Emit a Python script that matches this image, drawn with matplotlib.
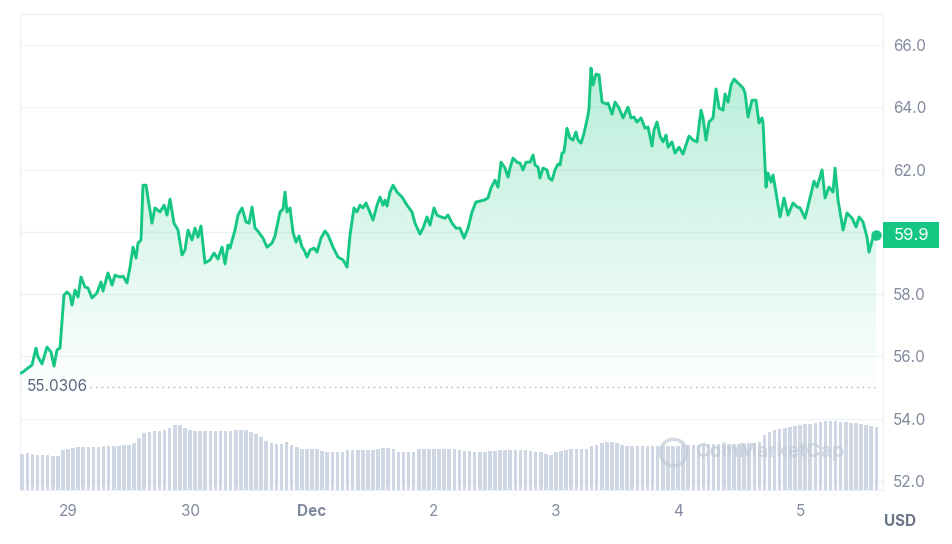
import datetime as dt

import matplotlib
matplotlib.use("Agg")
import matplotlib.pyplot as plt
import matplotlib.dates as mdates
import matplotlib.transforms as mtransforms
from matplotlib.colors import to_rgb
from matplotlib.patches import Polygon, Rectangle
import numpy as np

# price samples: hours since 28 Nov 00:00 and price in USD
hours = [
    14.75, 15.15, 16.13, 16.92, 17.70, 18.10, 18.89, 19.87, 20.66, 21.25,
    21.84, 22.43, 22.82, 23.21, 23.80, 24.39, 24.79, 25.38, 25.97, 26.56,
    27.34, 27.93, 28.72, 29.70, 30.49, 30.89, 31.87, 32.66, 33.25, 34.23,
    34.82, 35.61, 36.20, 36.79, 37.38, 37.77, 38.36, 38.75, 39.34, 39.74,
    40.52, 41.11, 42.10, 42.89, 43.48, 44.07, 44.85, 45.64, 46.43, 47.02,
    47.61, 48.39, 48.98, 49.57, 50.16, 50.95, 51.93, 52.72, 53.51, 54.30,
    54.89, 55.48, 55.87, 56.85, 57.44, 58.23, 59.02, 59.61, 60.20, 60.79,
    61.18, 62.36, 63.15, 64.13, 64.72, 65.70, 66.29, 66.69, 67.08, 67.67,
    68.26, 68.85, 69.44, 70.03, 70.43, 71.02, 71.61, 72.39, 72.98, 73.77,
    74.56, 75.15, 76.13, 77.11, 78.10, 78.89, 79.48, 80.26, 80.85, 81.44,
    82.03, 82.62, 83.21, 84.00, 84.79, 85.38, 85.97, 86.36, 86.75, 87.34,
    87.93, 88.72, 89.70, 90.69, 91.67, 92.26, 93.25, 93.84, 94.62, 95.21,
    96.00, 96.59, 97.38, 98.16, 98.75, 99.54, 100.33, 101.11, 101.90, 102.69,
    103.47, 104.26, 105.05, 105.84, 106.62, 107.21, 108.00, 108.59, 109.18, 109.97,
    110.56, 110.95, 111.54, 112.33, 112.92, 113.51, 114.10, 114.89, 115.48, 115.87,
    116.46, 116.85, 117.44, 118.23, 118.62, 119.21, 119.80, 120.39, 120.79, 121.18,
    121.57, 122.16, 122.75, 123.34, 123.93, 124.33, 124.92, 125.51, 126.29, 126.49,
    126.88, 127.28, 127.87, 128.46, 129.05, 129.84, 130.23, 131.02, 131.61, 132.39,
    133.18, 134.16, 134.75, 135.34, 135.93, 136.72, 137.51, 138.10, 138.88, 139.28,
    139.87, 140.46, 141.05, 141.64, 142.03, 142.82, 143.41, 144.20, 144.98, 145.57,
    146.16, 146.95, 147.74, 148.52, 148.92, 149.51, 150.10, 150.88, 151.48, 152.07,
    152.85, 153.25, 153.84, 154.43, 155.02, 155.61, 156.20, 156.79, 157.18, 157.77,
    158.56, 159.34, 159.93, 160.52, 160.72, 161.31, 161.70, 162.30, 162.69, 163.28,
    164.07, 164.85, 165.64, 166.62, 167.41, 168.00, 168.98, 169.77, 170.75, 171.34,
    172.33, 172.92, 173.70, 174.49, 174.89, 175.48, 176.46, 177.25, 178.23, 179.02,
    179.61, 180.39, 181.18, 181.57, 182.36, 182.95,
]
prices = [
    55.47, 55.50, 55.63, 55.72, 56.27, 55.98, 55.76, 56.30, 56.14, 55.69,
    56.21, 56.27, 57.10, 57.97, 58.07, 57.97, 57.65, 58.13, 57.91, 58.55,
    58.23, 58.20, 57.88, 58.04, 58.39, 58.10, 58.68, 58.29, 58.61, 58.55,
    58.58, 58.36, 58.87, 59.51, 59.16, 59.64, 59.74, 61.50, 61.50, 61.09,
    60.28, 60.77, 60.64, 60.86, 60.54, 61.05, 60.28, 60.06, 59.26, 59.42,
    60.06, 59.74, 60.12, 59.83, 60.19, 59.00, 59.10, 59.32, 59.13, 59.51,
    58.97, 59.58, 59.48, 60.06, 60.54, 60.77, 60.32, 60.28, 60.80, 60.12,
    60.06, 59.80, 59.51, 59.64, 59.87, 60.64, 60.73, 61.28, 60.64, 60.77,
    59.99, 59.67, 59.87, 59.51, 59.42, 59.19, 59.42, 59.48, 59.35, 59.80,
    60.03, 59.90, 59.51, 59.19, 59.10, 58.87, 59.90, 60.77, 60.64, 60.86,
    60.77, 60.93, 60.70, 60.38, 60.86, 61.12, 60.86, 61.02, 60.83, 61.28,
    61.50, 61.28, 61.12, 60.86, 60.64, 60.28, 59.93, 60.12, 60.48, 60.22,
    60.77, 60.54, 60.48, 60.44, 60.54, 60.28, 60.12, 60.12, 59.80, 60.12,
    60.64, 60.96, 60.99, 61.02, 61.09, 61.41, 61.66, 61.44, 62.24, 62.05,
    61.76, 62.05, 62.37, 62.24, 62.21, 61.99, 62.24, 62.24, 62.47, 62.15,
    62.08, 61.73, 62.05, 61.99, 61.73, 61.66, 61.99, 62.18, 62.15, 62.53,
    62.56, 63.33, 63.01, 62.95, 63.21, 62.95, 62.85, 63.17, 63.75, 63.98,
    65.26, 64.72, 65.07, 65.04, 64.17, 64.11, 64.14, 63.78, 64.17, 63.98,
    63.66, 64.01, 63.66, 63.69, 63.53, 63.66, 63.33, 63.37, 62.76, 63.27,
    63.53, 63.08, 62.89, 63.11, 62.72, 62.89, 62.53, 62.72, 62.50, 62.79,
    63.08, 62.95, 62.89, 63.91, 63.66, 62.95, 63.53, 63.66, 64.59, 63.98,
    63.91, 64.43, 64.17, 64.72, 64.91, 64.81, 64.72, 64.62, 64.46, 63.69,
    64.23, 64.23, 63.50, 63.66, 63.50, 61.44, 61.89, 61.60, 61.83, 61.25,
    60.48, 61.09, 60.54, 60.93, 60.80, 60.77, 60.44, 60.96, 61.63, 61.44,
    61.99, 61.09, 61.44, 61.28, 62.05, 61.02, 60.06, 60.61, 60.44, 60.16,
    60.48, 60.32, 59.83, 59.35, 59.83, 59.90,
]

# hourly volume (millions USD), first bar at hour 15 of 28 Nov
vol_start_hour = 15
volumes = [
    36, 37, 36, 35, 35, 35, 34, 34, 40, 41, 42, 43, 43, 43, 43, 43,
    44, 44, 44, 44, 45, 45, 47, 52, 57, 58, 59, 59, 60, 62, 65, 65,
    62, 60, 59, 59, 59, 59, 59, 59, 59, 59, 60, 60, 60, 58, 56, 53,
    49, 47, 46, 46, 48, 45, 43, 41, 41, 41, 41, 39, 38, 38, 38, 38,
    40, 40, 40, 40, 40, 40, 41, 42, 42, 41, 38, 38, 38, 38, 41, 41,
    41, 41, 41, 41, 41, 41, 40, 39, 39, 38, 38, 38, 39, 39, 40, 40,
    40, 40, 40, 40, 39, 38, 38, 36, 35, 38, 39, 40, 41, 41, 41, 41,
    44, 45, 47, 48, 48, 47, 45, 44, 44, 44, 44, 44, 44, 44, 44, 44,
    44, 44, 45, 45, 45, 45, 46, 46, 46, 46, 46, 46, 46, 46, 46, 47,
    47, 48, 55, 58, 60, 61, 62, 63, 64, 65, 66, 66, 67, 68, 69, 69,
    69, 68, 68, 67, 67, 66, 65, 64, 63,
]

open_price = 55.0306
last_price = 59.9
y_ticks = [52.0, 54.0, 56.0, 58.0, 60.0, 62.0, 64.0, 66.0]
tick_days = [dt.datetime(2023, 11, 29) + dt.timedelta(days=d) for d in range(7)]
tick_labels = ["29", "30", "Dec", "2", "3", "4", "5"]

assert len(hours) == len(prices)

GREEN = "#16c784"
GRID = "#eff2f5"
TEXT = "#808a9d"

plt.rcParams["font.family"] = ["Inter", "DejaVu Sans"]

start = dt.datetime(2023, 11, 28)
t = mdates.date2num([start + dt.timedelta(hours=h) for h in hours])
vt = mdates.date2num([start + dt.timedelta(hours=vol_start_hour + i) for i in range(len(volumes))])
x_lo = mdates.date2num(start + dt.timedelta(hours=14.56))
x_hi = mdates.date2num(start + dt.timedelta(hours=184.33))

fig = plt.figure(figsize=(9.53, 5.44), dpi=100)
ax = fig.add_axes([0.021, 0.0993, 0.9056, 0.875])

# gradient fill under the price line
rgb = to_rgb(GREEN)
grad = np.zeros((256, 1, 4))
grad[..., 0], grad[..., 1], grad[..., 2] = rgb
grad[:, 0, 3] = np.linspace(0.30, 0.01, 256)
top = max(prices)
im = ax.imshow(grad, aspect="auto", origin="upper",
               extent=[t[0], t[-1], open_price, top], zorder=1)
poly = Polygon(np.column_stack([np.r_[t[0], t, t[-1]],
                                np.r_[open_price, prices, open_price]]),
               closed=True, facecolor="none", edgecolor="none")
ax.add_patch(poly)
im.set_clip_path(poly)

ax.plot(t, prices, color=GREEN, lw=2.1, zorder=3, solid_joinstyle="round")
ax.plot(t[-1], prices[-1], "o", color=GREEN, ms=6.5, zorder=4)

ax.set_xlim(x_lo, x_hi)
ax.set_ylim(51.71, 67.0)

# baseline at the opening price
xfrac = (t[-1] - x_lo) / (x_hi - x_lo)
ax.axhline(open_price, xmin=0.081, xmax=xfrac, color="#a6b0c3",
           lw=1.0, linestyle=(0, (1, 3)), zorder=2)
ax.text(0.008, open_price, f"{open_price:.4f}", transform=ax.get_yaxis_transform(),
        ha="left", va="center", fontsize=11, color="#58667e")

ax.grid(axis="y", color=GRID, lw=1.0)
ax.set_axisbelow(True)
for sp in ax.spines.values():
    sp.set_color(GRID)
    sp.set_linewidth(1.0)

# current price badge
blend = mtransforms.blended_transform_factory(ax.transAxes, ax.transData)
ax.add_patch(Rectangle((1.0, last_price - 0.42), 0.065, 0.84, transform=blend,
                       facecolor=GREEN, edgecolor="none", clip_on=False, zorder=5))
ax.text(1.0325, last_price, f"{last_price:.1f}", transform=blend, ha="center",
        va="center", color="white", fontsize=12, zorder=6)

# volume bars on an overlay axis
vax = ax.twinx()
vax.bar(vt, volumes, width=0.7 / 24, color="#cfd6e4", zorder=1)
vax.set_ylim(0, max(volumes) * 6.9)
vax.yaxis.set_visible(False)
for sp in vax.spines.values():
    sp.set_visible(False)
vax.set_xlim(x_lo, x_hi)

# price ticks on the right (after twinx, which moves them left);
# the tick hidden under the price badge gets no label
ax.yaxis.tick_right()
ax.set_yticks(y_ticks)
ax.set_yticklabels(["" if abs(v - last_price) < 0.6 else f"{v:.1f}" for v in y_ticks])
ax.set_xticks(mdates.date2num(tick_days))
ax.set_xticklabels(tick_labels)
for lbl in ax.get_xticklabels():
    if lbl.get_text() == "Dec":
        lbl.set_fontweight("bold")
        lbl.set_color("#58667e")
ax.tick_params(axis="y", which="both", left=False, labelleft=False, right=False,
               labelright=True, length=0, pad=7, labelsize=11, labelcolor=TEXT)
ax.tick_params(axis="x", length=0, pad=10, labelsize=11, labelcolor=TEXT)

# watermark
vax.plot([0.757], [0.080], marker="o", ms=19, mfc="none", mec="#c3cad7",
         mew=2.5, alpha=0.7, transform=vax.transAxes, zorder=2)
vax.text(0.782, 0.080, "CoinMarketCap", transform=vax.transAxes, ha="left",
         va="center", fontsize=14, fontweight="bold", color="#c3cad7",
         alpha=0.7, zorder=2)

fig.text(900 / 953, 1 - 521 / 544, "USD", ha="center", va="center",
         fontsize=11, fontweight="bold", color="#6b7588")

fig.savefig("out.png", dpi=100, facecolor="white")
